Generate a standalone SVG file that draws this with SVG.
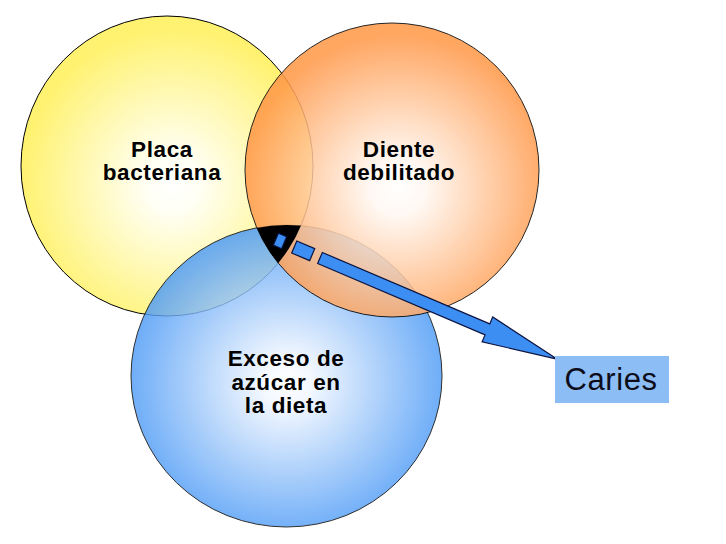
<svg xmlns="http://www.w3.org/2000/svg" width="726" height="544" viewBox="0 0 726 544">
  <style>
    .ring { stroke: #000; stroke-width: 1; }
    .lbl { font-family: "Liberation Sans", Arial, sans-serif; font-weight: bold; font-size: 22.5px; letter-spacing: 0.6px; fill: #000; text-anchor: middle; }
    .arrowpart { fill: #3d8ef2; stroke: #0a1440; stroke-width: 1.2; }
  </style>
  <defs>
    <radialGradient id="gY" cx="0.52" cy="0.56" r="0.52">
      <stop offset="0" stop-color="#ffffff"/>
      <stop offset="0.18" stop-color="#fffff4"/>
      <stop offset="1" stop-color="#fff270"/>
    </radialGradient>
    <radialGradient id="gO" cx="0.52" cy="0.56" r="0.52">
      <stop offset="0" stop-color="#ffffff"/>
      <stop offset="0.18" stop-color="#fff8f2"/>
      <stop offset="1" stop-color="#ff9848"/>
    </radialGradient>
    <radialGradient id="gB" cx="0.5" cy="0.52" r="0.52">
      <stop offset="0" stop-color="#ffffff"/>
      <stop offset="0.15" stop-color="#f2f7ff"/>
      <stop offset="1" stop-color="#4898f6"/>
    </radialGradient>
    <clipPath id="cY"><ellipse cx="167" cy="166" rx="146" ry="150"/></clipPath>
    <clipPath id="cO"><circle cx="392" cy="170" r="147"/></clipPath>
  </defs>
  <rect width="726" height="544" fill="#ffffff"/>

  <g id="placa-bacteriana">
    <ellipse class="ring" cx="167" cy="166" rx="146" ry="150" fill="url(#gY)"/>
    <text class="lbl" x="162" y="157">Placa</text>
    <text class="lbl" x="162" y="180">bacteriana</text>
  </g>

  <g id="exceso-azucar">
    <ellipse class="ring" cx="286.5" cy="376" rx="155.5" ry="151" fill="url(#gB)" opacity="0.82"/>
    <text class="lbl" x="286" y="366">Exceso de</text>
    <text class="lbl" x="286" y="390">azúcar en</text>
    <text class="lbl" x="286" y="413">la dieta</text>
  </g>

  <g id="diente-debilitado">
    <circle class="ring" cx="392" cy="170" r="147" fill="url(#gO)" opacity="0.86"/>
    <text class="lbl" x="399" y="157">Diente</text>
    <text class="lbl" x="399" y="180">debilitado</text>
  </g>

  <g id="interseccion">
    <g clip-path="url(#cY)">
      <ellipse cx="286.5" cy="376" rx="155.5" ry="151" fill="#000" clip-path="url(#cO)"/>
    </g>
  </g>

  <g id="connectors">
    <g transform="translate(320,258) rotate(23.1)">
      <rect class="arrowpart" x="-48" y="-6.5" width="9" height="13"/>
      <rect class="arrowpart" x="-28" y="-6.5" width="19.5" height="13"/>
      <path class="arrowpart" d="M0,-6 L182,-6 L182,-13.5 L257.6,0 L182,13.5 L182,6 L0,6 Z"/>
    </g>
  </g>

  <g id="caries">
    <rect x="555" y="356" width="114" height="47" fill="#8cbdf5"/>
    <text x="611" y="390" font-family="'Liberation Sans', Arial, sans-serif" font-size="31" letter-spacing="0.6" fill="#0d0d1a" text-anchor="middle">Caries</text>
  </g>
</svg>
